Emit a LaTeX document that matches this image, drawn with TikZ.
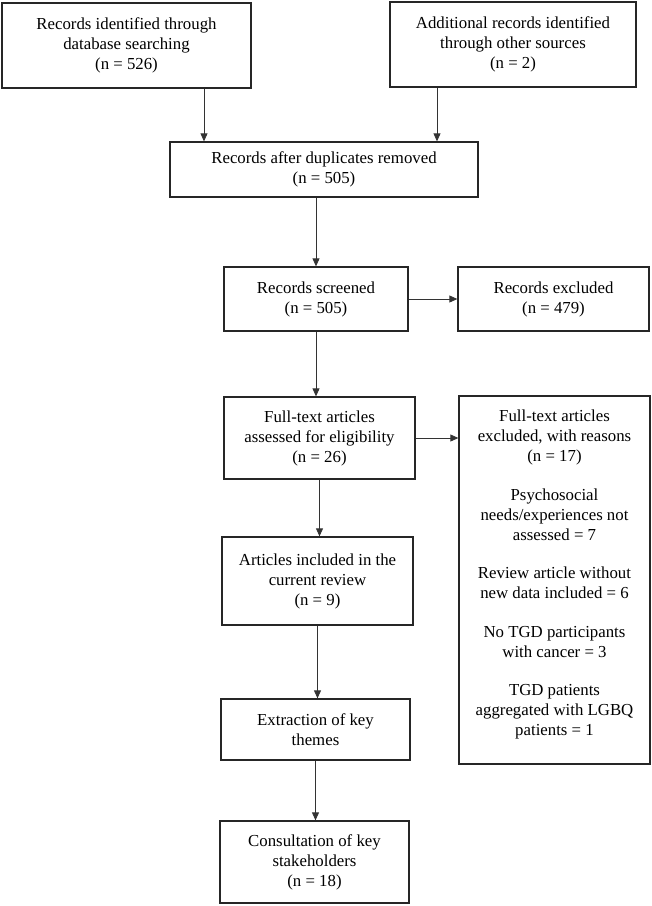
\documentclass[tikz,border=0pt]{standalone}
\usepackage{fontspec}
\setmainfont{Liberation Serif}
\usetikzlibrary{arrows.meta}

\begin{document}
\begin{tikzpicture}[x=1pt,y=-1pt,
	box/.style={draw=black!85, line width=1.3pt, inner sep=0pt, align=center, font=\fontsize{16.8}{20}\selectfont},
	arr/.style={draw=black!80, line width=0.8pt, -{Triangle[length=8pt,width=7pt]}}]
	\useasboundingbox (0,0) rectangle (652,906);
	\node[box, minimum width=249pt, minimum height=85pt] (search) at (126.5,45.5) {Records identified through\\database searching\\(n = 526)};
	\node[box, minimum width=246pt, minimum height=85pt] (other) at (513,44.5) {Additional records identified\\through other sources\\(n = 2)};
	\node[box, minimum width=308pt, minimum height=55pt] (dup) at (324,169.5) {Records after duplicates removed\\(n = 505)};
		\node[box, minimum width=184pt, minimum height=64pt] (screen) at (316,299) {Records screened\\(n = 505)};
		\node[box, minimum width=191pt, minimum height=64pt] (excl) at (553.5,299) {Records excluded\\(n = 479)};
			\node[box, minimum width=191pt, minimum height=82pt] (full) at (319.5,438) {Full-text articles\\assessed for eligibility\\(n = 26)};
			\node[box, minimum width=191pt, minimum height=368pt] (reasons) at (554.5,580) {};
			\node[box, draw=none, anchor=north] (why) at (reasons.north) [yshift=-14pt] {Full-text articles\\excluded, with reasons\\(n = 17)\\[18.5pt]
				Psychosocial\\needs/experiences not\\assessed = 7\\[18.5pt]
				Review article without\\new data included = 6\\[18.5pt]
				No TGD participants\\with cancer = 3\\[18.5pt]
				TGD patients\\aggregated with LGBQ\\patients = 1};
				\node[box, minimum width=191pt, minimum height=88pt] (incl) at (317.5,581) {Articles included in the\\current review\\(n = 9)};
				\node[box, minimum width=189pt, minimum height=61pt] (themes) at (315.5,729.5) {Extraction of key\\themes};
				\node[box, minimum width=189pt, minimum height=82pt] (consult) at (314.5,862) {Consultation of key\\stakeholders\\(n = 18)};
	\coordinate (in1) at (204,142);
	\coordinate (in2) at (437,142);
	\draw[arr] (search.south -| in1) -- (dup.north -| in1);
	\draw[arr] (other.south -| in2) -- (dup.north -| in2);
	\draw[arr] (dup.south -| screen.north) -- (screen.north);
	\draw[arr] (screen.east) -- (excl.west);
	\draw[arr] (screen.south) -- (screen.south |- full.north);
	\draw[arr] (full.east) -- (full.east -| reasons.west);
	\draw[arr] (full.south) -- (full.south |- incl.north);
	\draw[arr] (incl.south) -- (incl.south |- themes.north);
	\draw[arr] (themes.south) -- (themes.south |- consult.north);
\end{tikzpicture}
\end{document}
